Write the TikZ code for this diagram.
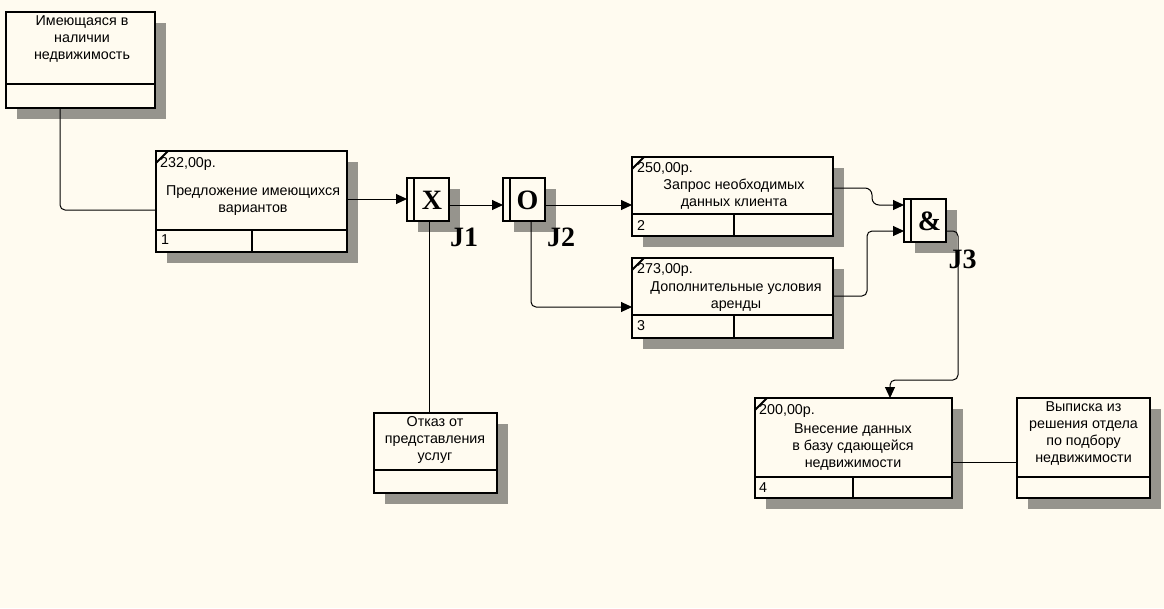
\documentclass[tikz,border=0pt]{standalone}
\usepackage{fontspec}
\setmainfont{Liberation Sans}
\newfontfamily\jfont{Liberation Serif}
\usetikzlibrary{arrows.meta,calc,shadows}
\definecolor{bg}{RGB}{255,251,240}
\definecolor{shd}{RGB}{150,148,141}
\begin{document}
\begin{tikzpicture}[x=1pt,y=-1pt,
 box/.style={draw, line width=2pt, fill=bg, inner sep=0pt, outer sep=0pt,
   general shadow={fill=shd, shadow xshift=11pt, shadow yshift=-11pt}},
 jbox/.style={box, minimum width=42pt, minimum height=43pt},
 txt/.style={font=\fontsize{14.3}{17}\selectfont, align=center, inner sep=0pt},
 small/.style={font=\fontsize{14.3}{17}\selectfont, anchor=west, inner sep=0pt},
 jl/.style={font=\jfont\bfseries\fontsize{28}{28}\selectfont, inner sep=0pt},
 conn/.style={line width=1pt, rounded corners=5pt},
 arr/.style={conn, -{Triangle[length=11pt,width=10pt]}},
 dv/.style={line width=2pt},
]
\fill[bg] (0,0) rectangle (1164,608);
\useasboundingbox (0,0) rectangle (1164,608);

% Box 1
\node[box, minimum width=149pt, minimum height=96pt] (b1) at (80.5,60) {};
\draw[dv] ($(b1.south west)+(0,-24)$) -- ($(b1.south east)+(0,-24)$);
\node[txt] (t1) at (82,39.5) {Имеющаяся в\\наличии\\недвижимость};

% Box 2
\node[box, minimum width=191pt, minimum height=101pt] (b2) at (251.5,201.5) {};
\draw[dv] ($(b2.south west)+(0,-22)$) -- ($(b2.south east)+(0,-22)$);
\draw[dv] ($(b2.south west)+(96,0)$) -- ++(0,-22);
\draw[dv] ($(b2.north west)+(0,12)$) -- ($(b2.north west)+(12,0)$);
\node[small] (c2) at (160,163.5) {232,00р.};
\node[txt] (t2) at (253,201) {Предложение имеющихся\\вариантов};
\node[small] (n2) at (161,240) {1};

% Box 3
\node[box, minimum width=201pt, minimum height=79pt] (b3) at (732.5,196.5) {};
\draw[dv] ($(b3.south west)+(0,-22)$) -- ($(b3.south east)+(0,-22)$);
\draw[dv] ($(b3.south west)+(102,0)$) -- ++(0,-22);
\draw[dv] ($(b3.north west)+(0,12)$) -- ($(b3.north west)+(12,0)$);
\node[small] (c3) at (637,168.5) {250,00р.};
\node[txt] (t3) at (734,194.5) {Запрос необходимых\\данных клиента};
\node[small] (n3) at (637,226) {2};

% Box 4
\node[box, minimum width=201pt, minimum height=80pt] (b4) at (732.5,298) {};
\draw[dv] ($(b4.south west)+(0,-23)$) -- ($(b4.south east)+(0,-23)$);
\draw[dv] ($(b4.south west)+(102,0)$) -- ++(0,-23);
\draw[dv] ($(b4.north west)+(0,12)$) -- ($(b4.north west)+(12,0)$);
\node[small] (c4) at (637,270) {273,00р.};
\node[txt] (t4) at (736,296.5) {Дополнительные условия\\аренды};
\node[small] (n4) at (637,326) {3};

% Box 5
\node[box, minimum width=197pt, minimum height=100pt] (b5) at (853.5,448) {};
\draw[dv] ($(b5.south west)+(0,-21)$) -- ($(b5.south east)+(0,-21)$);
\draw[dv] ($(b5.south west)+(98,0)$) -- ++(0,-21);
\draw[dv] ($(b5.north west)+(0,12)$) -- ($(b5.north west)+(12,0)$);
\node[small] (c5) at (759,411) {200,00р.};
\node[txt] (t5) at (853,447) {Внесение данных\\в базу сдающейся\\недвижимости};
\node[small] (n5) at (759,488) {4};

% Box 6
\node[box, minimum width=133pt, minimum height=100pt] (b6) at (1083.5,448) {};
\draw[dv] ($(b6.south west)+(0,-21)$) -- ($(b6.south east)+(0,-21)$);
\node[txt] (t6) at (1083.5,433.5) {Выписка из\\решения отдела\\по подбору\\недвижимости};

% Box 7
\node[box, minimum width=123pt, minimum height=80pt] (b7) at (435.5,453) {};
\draw[dv] ($(b7.south west)+(0,-23)$) -- ($(b7.south east)+(0,-23)$);
\node[txt] (t7) at (435,440) {Отказ от\\представления\\услуг};

% Junctions
\node[jbox] (j1) at (428,199) {};
\draw[dv] ($(j1.north west)+(7,0)$) -- ($(j1.south west)+(7,0)$);
\node[jl] (x1) at (432,200) {X};
\node[jl] (l1) at (464,237.5) {J1};

\node[jbox] (j2) at (524,199) {};
\draw[dv] ($(j2.north west)+(7,0)$) -- ($(j2.south west)+(7,0)$);
\node[jl] (x2) at (527.5,200) {O};
\node[jl] (l2) at (561,237.5) {J2};

\node[jbox] (j3) at (925,220) {};
\draw[dv] ($(j3.north west)+(7,0)$) -- ($(j3.south west)+(7,0)$);
\node[jl] (x3) at (929.5,221.5) {\&};
\node[jl] (l3) at (962.5,259) {J3};

% Connectors
\draw[conn] (b1.south -| 60,0) -- (60,210) -- (b2.west |- 0,210);
\draw[arr] (b2.east |- j1.west) -- (j1.west);
\draw[arr] (j1.east |- 0,205) -- (j2.west |- 0,205);
\draw[arr] (j2.east |- 0,205) -- (b3.west |- 0,205);
\draw[arr] (j2.south -| 531,0) -- (531,307) -- (b4.west |- 0,307);
\draw[conn] (j1.south -| 429,0) -- (b7.north -| 429,0);
\draw[arr, rounded corners=7pt] (b3.east |- 0,188) -- (872,188) -- (872,205) -- (j3.west |- 0,205);
\draw[arr] (b4.east |- 0,296) -- (867,296) -- (867,231) -- (j3.west |- 0,231);
\draw[arr] (j3.east |- 0,231) -- (958,231) -- (958,380) -- (890,380) -- (b5.north -| 890,0);
\draw[conn] (b5.east |- 0,462) -- (b6.west |- 0,462);
\end{tikzpicture}
\end{document}
